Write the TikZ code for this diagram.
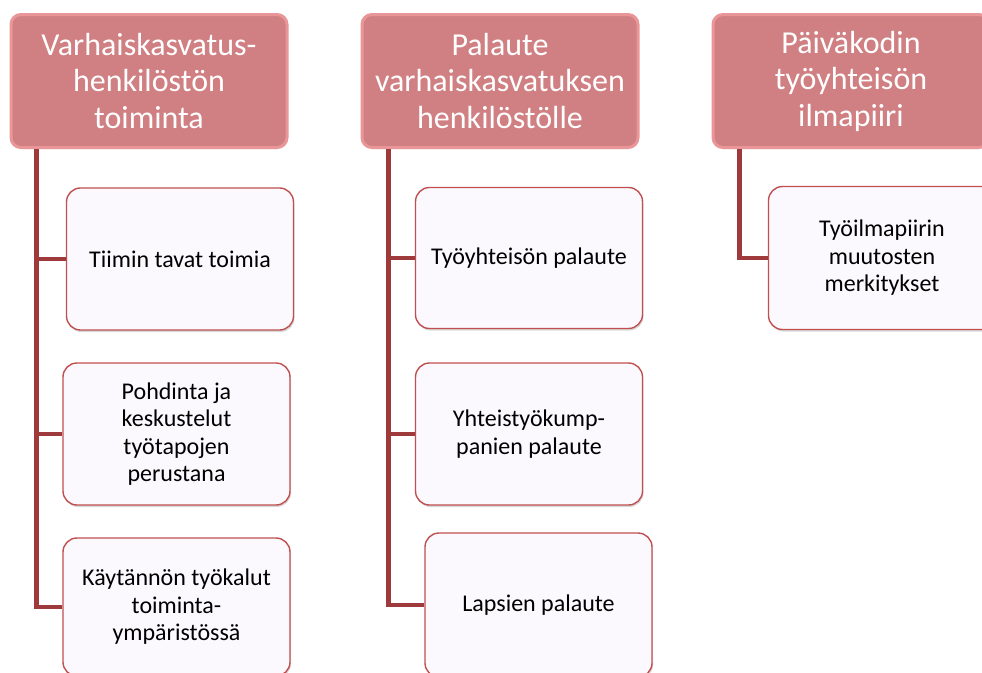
\documentclass[tikz,border=0pt]{standalone}
\usepackage{fontspec}
\setmainfont{Carlito}
\usetikzlibrary{shadows}
\definecolor{hdrfill}{RGB}{208,128,130}
\definecolor{hdredge}{RGB}{234,150,152}
\definecolor{kidfill}{RGB}{251,249,253}
\definecolor{kidedge}{RGB}{192,80,80}
\definecolor{conncol}{RGB}{158,58,60}
\tikzset{
  hdrbox/.style={rounded corners=10pt, fill=hdrfill, draw=hdredge, line width=3pt,
    minimum width=276pt, minimum height=133pt, align=center, text=white,
    font=\fontsize{32}{36.5}\selectfont, inner sep=0pt,
    drop shadow={opacity=0.15, shadow xshift=0pt, shadow yshift=-1.5pt}},
  kidbox/.style={rounded corners=14pt, fill=kidfill, draw=kidedge, line width=1.4pt,
    minimum width=227pt, align=center, text=black,
    font=\fontsize{24}{27.5}\selectfont, inner sep=0pt,
    drop shadow={opacity=0.3, shadow xshift=1pt, shadow yshift=-2pt}},
  conn/.style={draw=conncol, line width=4.8pt}
}
\begin{document}
\begin{tikzpicture}[x=1pt,y=-1pt]
\useasboundingbox (0,0) rectangle (982,672);
\clip (0,0) rectangle (982,672);
\fill[white] (0,0) rectangle (982,672);

% header boxes
\node[hdrbox] (h1) at (149,81) {Varhaiskasvatus-\\henkilöstön\\toiminta};
\node[hdrbox] (h2) at (500,81) {Palaute\\varhaiskasvatuksen\\henkilöstölle};
\node[hdrbox] (h3) at (851,81) {Päiväkodin\\työyhteisön\\ilmapiiri};

% trunk coordinates
\coordinate (t1) at ([xshift=27pt]h1.south west);
\coordinate (t2) at ([xshift=28pt]h2.south west);
\coordinate (t3) at ([xshift=28pt]h3.south west);

% child boxes
\node[kidbox, minimum height=142pt] (c11) at (180,259) {Tiimin tavat toimia};
\node[kidbox, minimum height=142pt] (c12) at (176.5,434) {Pohdinta ja\\keskustelut\\työtapojen\\perustana};
\node[kidbox, minimum height=138pt] (c13) at (176.5,607) {Käytännön työkalut\\toiminta-\\ympäristössä};

\node[kidbox, minimum height=141pt] (c21) at (529,258) {Työyhteisön palaute};
\node[kidbox, minimum height=142pt] (c22) at (529,434) {Yhteistyökump-\\panien palaute};
\node[kidbox, minimum height=144pt] (c23) at (538.5,605) {Lapsien palaute};

\node[kidbox, minimum height=143pt] (c31) at (882,258) {Työilmapiirin\\muutosten\\merkitykset};

% connectors
\draw[conn] (t1) |- (c13.west);
\draw[conn] (t1) |- (c12.west);
\draw[conn] (t1) |- (c11.west);
\draw[conn] (t2) |- (c23.west);
\draw[conn] (t2) |- (c22.west);
\draw[conn] (t2) |- (c21.west);
\draw[conn] (t3) |- (c31.west);
\end{tikzpicture}
\end{document}
